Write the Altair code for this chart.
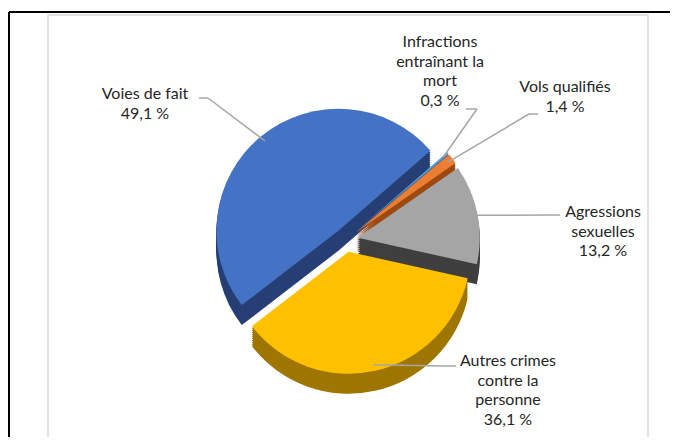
import altair as alt
import pandas as pd

# ---- data ----
categories = ["Infractions entraînant la mort", "Vols qualifiés", "Agressions sexuelles",
              "Autres crimes contre la personne", "Voies de fait"]
shares = [0.3, 1.4, 13.2, 36.1, 49.1]
label_names = ["Infractions\nentraînant la\nmort", "Vols qualifiés", "Agressions\nsexuelles",
               "Autres crimes\ncontre la\npersonne", "Voies de fait"]

# ---- styles ----
top_colors = ["#5B9BD5", "#ED7D31", "#A5A5A5", "#FFC000", "#4472C4"]
side_colors = ["#2E5E8C", "#9C4A12", "#3F3F3F", "#9E7600", "#263F74"]
FONT = "Lato"

# ---- layout (chart pixel coords) ----
CX, CY, R = 338, 232, 122
EXPLODE, DEPTH = 12, 20
START = 49 * 3.141592653589793 / 180
label_x = [432, 557, 595, 500, 137]
label_y = [35, 80, 205, 354, 87]
attach_x = [458, 530, 552, 448, 191]
attach_y = [101, 106, 207, 358, 90]
elbow_x = [469, 521, 544, 435, 200]
elbow_y = [101, 106, 207, 358, 90]

df = pd.DataFrame({
    "category": categories,
    "value": shares,
    "order": list(range(len(categories))),
    "label": [n + "\n" + f"{v:.1f}".replace(".", ",") + " %" for n, v in zip(label_names, shares)],
    "lx": label_x, "ly": [y - 9.75 for y in label_y],
    "axp": attach_x, "ayp": attach_y, "exp": elbow_x, "eyp": elbow_y,
})


def base():
    return (
        alt.Chart(df)
        .transform_joinaggregate(total="sum(value)")
        .transform_window(cum="sum(value)", sort=[alt.SortField("order")], frame=[None, 0])
        .transform_calculate(t1=f"{START} + 2*PI*datum.cum/datum.total")
        .transform_calculate(t0="datum.t1 - 2*PI*datum.value/datum.total")
        .transform_calculate(mid="(datum.t0 + datum.t1)/2")
        .transform_calculate(
            px=f"{CX} + {EXPLODE}*sin(datum.mid)",
            py=f"{CY} - {EXPLODE}*cos(datum.mid)",
        )
    )


def pie_layer(dy, colors):
    return (
        base()
        .transform_calculate(c=f"{colors}[datum.order]", pyd=f"datum.py + {dy}")
        .mark_arc(outerRadius=R)
        .encode(
            x=alt.X("px:Q", scale=None),
            y=alt.Y("pyd:Q", scale=None),
            theta=alt.Theta("t0:Q", scale=None),
            theta2="t1:Q",
            color=alt.Color("c:N", scale=None),
        )
    )


layers = []

# frame & page lines
one = pd.DataFrame({"a": [0]})
layers.append(alt.Chart(one).mark_rect(fillOpacity=0, stroke="#d9d9d9", strokeWidth=1.5).encode(
    x=alt.value(40), x2=alt.value(640), y=alt.value(7), y2=alt.value(435)))
layers.append(alt.Chart(one).mark_rule(color="black", strokeWidth=2).encode(
    x=alt.value(1), x2=alt.value(662), y=alt.value(4)))
layers.append(alt.Chart(one).mark_rule(color="black", strokeWidth=2).encode(
    x=alt.value(1), y=alt.value(4), y2=alt.value(429)))

for d in range(DEPTH, 0, -2):
    layers.append(pie_layer(d, side_colors))
layers.append(pie_layer(0, top_colors))

# leader lines
layers.append(alt.Chart(df).mark_rule(color="#a6a6a6", strokeWidth=1.5).encode(
    x=alt.X("axp:Q", scale=None), y=alt.Y("ayp:Q", scale=None), x2="exp:Q", y2="eyp:Q"))
layers.append(
    base()
    .transform_calculate(
        ex=f"datum.px + {R * 0.95}*sin(datum.mid)",
        ey=f"datum.py - {R * 0.95}*cos(datum.mid)",
    )
    .mark_rule(color="#a6a6a6", strokeWidth=1.5)
    .encode(x=alt.X("exp:Q", scale=None), y=alt.Y("eyp:Q", scale=None), x2="ex:Q", y2="ey:Q")
)

# labels
layers.append(alt.Chart(df).mark_text(
    font=FONT, fontSize=16, lineBreak="\n", lineHeight=19.5, align="center",
    baseline="line-top", color="#262626").encode(
    x=alt.X("lx:Q", scale=None), y=alt.Y("ly:Q", scale=None), text="label:N"))

chart = alt.layer(*layers).properties(
    width=662, height=429,
    autosize=alt.AutoSizeParams(type="none"),
    padding=0,
).configure_view(stroke=None)

chart.save("out.html", embed_options={"renderer": "svg", "actions": False})
